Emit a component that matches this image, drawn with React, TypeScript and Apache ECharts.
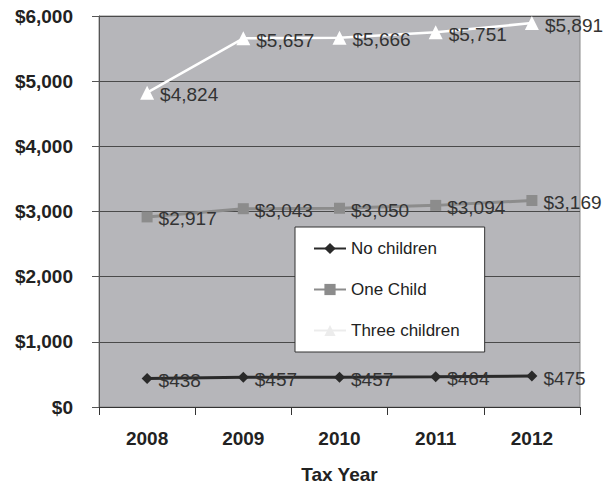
import React, { useEffect, useRef } from "react";
import * as echarts from "echarts";

const years = ["2008", "2009", "2010", "2011", "2012"];
const noChildren = [438, 457, 457, 464, 475];
const oneChild = [2917, 3043, 3050, 3094, 3169];
const threeChildren = [4824, 5657, 5666, 5751, 5891];
const yTicks = [0, 1000, 2000, 3000, 4000, 5000, 6000];

const FONT = "'Liberation Sans', Arial, sans-serif";
const money = (v: number) => "$" + v.toLocaleString("en-US");

export default function App() {
  const ref = useRef<HTMLDivElement>(null);
  useEffect(() => {
    if (!ref.current) return;
    const chart = echarts.init(ref.current, undefined, { renderer: "svg" });
    const label = {
      show: true,
      position: "right" as const,
      distance: 6,
      offset: [0, 2],
      color: "#333",
      fontSize: 19,
      fontFamily: FONT,
      formatter: (p: any) => money(p.value),
    };
    chart.setOption({
      animation: false,
      backgroundColor: "#fff",
      grid: {
        left: 99,
        top: 16,
        right: 27,
        bottom: 78,
        show: true,
        backgroundColor: "#b6b6ba",
        borderColor: "#8a8a8a",
        borderWidth: 1,
      },
      legend: {
        orient: "vertical",
        left: 295,
        top: 227,
        backgroundColor: "#fff",
        borderColor: "#333",
        borderWidth: 1,
        padding: [13, 25, 13, 18],
        itemGap: 24,
        itemWidth: 32,
        itemHeight: 14,
        textStyle: { fontSize: 17, color: "#222", fontFamily: FONT },
        data: [
          { name: "No children" },
          { name: "One Child" },
          {
            name: "Three children",
            itemStyle: { color: "#ececec" },
            lineStyle: { color: "#ececec" },
          },
        ],
      },
      xAxis: {
        type: "category",
        data: years,
        boundaryGap: true,
        name: "Tax Year",
        nameLocation: "middle",
        nameGap: 58,
        nameTextStyle: { fontSize: 19, fontWeight: "bold", color: "#222", fontFamily: FONT },
        axisLine: { lineStyle: { color: "#333", width: 1 } },
        axisTick: { show: true, length: 8, alignWithLabel: false, lineStyle: { color: "#333" } },
        axisLabel: { fontSize: 19, fontWeight: "bold", color: "#222", margin: 22, fontFamily: FONT },
      },
      yAxis: {
        type: "value",
        min: 0,
        max: 6000,
        interval: 1000,
        axisLine: { show: true, lineStyle: { color: "#555" } },
        axisTick: { show: true, length: 7, lineStyle: { color: "#555" } },
        splitLine: { lineStyle: { color: "#4a4a4a", width: 1 } },
        axisLabel: {
          fontSize: 19,
          fontWeight: "bold",
          color: "#222",
          margin: 26,
          fontFamily: FONT,
          formatter: (v: number) => (yTicks.includes(v) ? money(v) : ""),
        },
      },
      series: [
        {
          name: "No children",
          type: "line",
          data: noChildren,
          symbol: "diamond",
          symbolSize: 11,
          itemStyle: { color: "#2a2a2a" },
          lineStyle: { color: "#2a2a2a", width: 3 },
          label,
        },
        {
          name: "One Child",
          type: "line",
          data: oneChild,
          symbol: "rect",
          symbolSize: 11,
          itemStyle: { color: "#8c8c8c" },
          lineStyle: { color: "#8c8c8c", width: 3 },
          label,
        },
        {
          name: "Three children",
          type: "line",
          data: threeChildren,
          symbol: "triangle",
          symbolSize: 14,
          itemStyle: { color: "#ffffff" },
          lineStyle: { color: "#ffffff", width: 2.5 },
          label,
        },
      ],
    });
    return () => chart.dispose();
  }, []);
  return <div ref={ref} style={{ width: 607, height: 489, position: "absolute", left: 0, top: 0 }} />;
}
